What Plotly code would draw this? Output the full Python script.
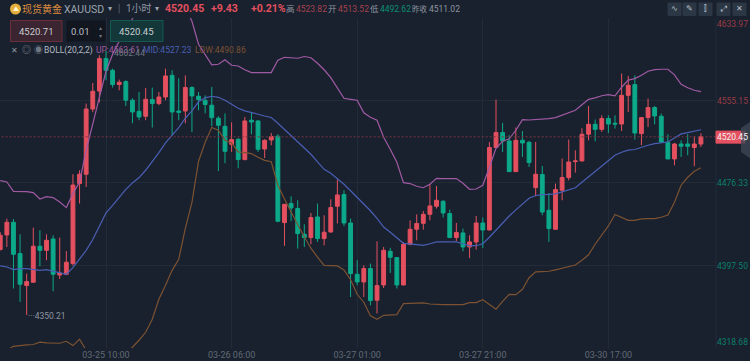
import plotly.graph_objects as go

W, H = 750, 361
L, R, T, B = 0, 716, 18, 347.7

open_ = [4412.7,4426.7,4438.8,4408.9,4378.3,4381.5,4415.9,4412.0,4422.9,4388.4,4389.1,4399.3,4475.8,4484.7,4547.0,4564.2,4595.2,4584.0,4570.4,4573.2,
4555.4,4544.8,4540.1,4556.0,4552.2,4558.5,4579.2,4545.1,4545.1,4567.5,4559.2,4555.4,4550.6,4538.2,4530.5,4513.3,4518.1,4498.7,4536.3,4535.6,
4508.8,4517.4,4521.0,4438.5,4456.7,4451.9,4427.3,4424.2,4443.9,4423.2,4429.5,4454.1,4465.3,4438.1,4389.1,4381.8,4394.6,4364.3,4378.9,4411.1,
4405.1,4378.9,4417.8,4432.1,4437.8,4446.4,4454.1,4458.9,4447.1,4424.2,4428.6,4415.2,4420.0,4438.1,4431.4,4510.2,4524.5,4516.5,4487.2,4517.1,
4515.2,4471.9,4484.4,4450.3,4432.1,4469.4,4481.5,4496.8,4497.4,4522.9,4532.4,4527.6,4537.9,4533.4,4532.7,4560.1,4570.4,4523.5,4538.8,4548.4,
4540.1,4515.2,4499.3,4513.6,4513.6,4510.2,4513.52]
high = [4429.3,4442.3,4441.9,4427.3,4389.8,4433.7,4431.2,4427.3,4426.4,4424.2,4411.4,4484.7,4488.5,4552.2,4571.9,4598.4,4602.44,4585.6,4575.1,4574.5,
4557.3,4563.3,4567.1,4567.5,4563.3,4585.6,4584.0,4576.4,4579.2,4568.7,4563.3,4560.1,4568.1,4540.1,4542.9,4534.3,4519.1,4539.4,4543.2,4536.3,
4518.1,4524.1,4522.9,4456.0,4463.6,4459.8,4436.9,4447.7,4456.7,4445.5,4460.8,4479.6,4469.4,4442.3,4402.5,4397.7,4399.3,4420.6,4415.2,4414.3,
4405.4,4420.0,4440.7,4446.4,4449.6,4475.1,4473.5,4459.8,4450.9,4438.1,4432.8,4426.4,4444.8,4443.3,4515.5,4556.0,4533.7,4521.9,4529.3,4526.0,
4516.5,4515.5,4492.6,4466.8,4475.8,4499.7,4517.8,4507.6,4528.6,4549.9,4536.9,4541.0,4541.0,4541.0,4580.9,4578.6,4579.2,4539.4,4557.0,4549.9,
4542.7,4522.9,4514.6,4517.1,4522.9,4521.0,4523.82]
low = [4412.0,4415.2,4375.5,4362.7,4350.21,4381.5,4396.8,4402.5,4372.9,4384.6,4388.2,4397.4,4456.7,4472.5,4543.9,4553.4,4574.5,4567.5,4564.9,4549.9,
4533.4,4536.3,4536.3,4529.3,4550.6,4555.4,4521.9,4536.3,4533.4,4525.1,4545.8,4542.9,4530.5,4487.8,4495.2,4506.0,4490.4,4498.0,4522.9,4506.0,
4500.2,4512.4,4438.8,4416.2,4439.8,4413.7,4415.2,4417.8,4420.0,4416.8,4428.9,4437.6,4435.0,4367.4,4378.6,4367.4,4359.5,4351.6,4376.0,4390.4,
4375.5,4378.6,4416.8,4421.6,4431.8,4440.7,4451.9,4443.3,4424.2,4420.9,4411.1,4404.7,4412.7,4414.2,4431.2,4510.0,4506.0,4487.2,4487.0,4501.2,
4491.6,4463.6,4445.5,4420.0,4431.8,4459.8,4478.9,4486.3,4497.0,4517.1,4516.2,4525.1,4524.1,4528.3,4526.0,4544.2,4517.8,4512.4,4529.9,4532.4,
4514.6,4499.0,4493.3,4501.2,4502.8,4492.3,4510.7]
close = [4426.4,4438.8,4408.2,4379.6,4382.1,4415.9,4412.0,4421.6,4389.1,4390.4,4400.6,4474.4,4484.7,4547.0,4564.0,4595.2,4584.0,4570.4,4572.6,4555.4,
4544.2,4539.4,4556.3,4552.2,4558.5,4578.6,4544.2,4543.9,4567.5,4559.5,4556.0,4551.3,4538.8,4531.5,4506.6,4517.8,4498.7,4535.6,4534.6,4508.5,
4517.1,4520.7,4439.8,4456.0,4452.5,4428.0,4424.2,4443.3,4423.2,4429.3,4452.8,4464.9,4438.1,4389.8,4381.8,4394.6,4364.0,4378.3,4412.0,4405.4,
4378.9,4417.8,4432.1,4437.6,4446.4,4454.4,4459.8,4447.7,4424.2,4429.0,4415.2,4420.0,4438.1,4431.4,4510.2,4524.5,4516.5,4487.2,4517.1,4514.6,
4495.8,4484.7,4448.6,4432.8,4470.0,4481.5,4496.4,4497.4,4522.9,4532.4,4527.6,4537.9,4532.7,4532.7,4560.1,4569.7,4524.1,4538.8,4548.4,4540.4,
4515.5,4499.3,4513.6,4511.4,4511.4,4513.6,4520.45]

band_up = [4478.6,4477.3,4468.4,4468.4,4468.1,4467.2,4461.0,4463.3,4462.4,4458.2,4452.8,4466.2,4477.3,4507.6,4531.5,4558.2,4583.1,4599.3,4611.7,4623.2,
4633.2,4643.3,4655.7,4665.2,4670.0,4671.9,4670.0,4662.4,4644.2,4630.8,4608.9,4599.3,4589.3,4589.8,4594.1,4588.8,4588.1,4584.5,4581.8,4581.8,
4581.8,4581.8,4593.6,4596.4,4596.0,4595.5,4597.2,4596.0,4590.7,4584.5,4576.9,4567.3,4557.3,4556.3,4555.4,4543.4,4539.1,4536.3,4520.0,4508.5,
4496.1,4476.7,4475.8,4473.2,4471.8,4475.1,4480.8,4480.5,4480.5,4480.5,4476.0,4470.3,4470.6,4474.2,4491.3,4509.5,4516.2,4518.6,4526.7,4536.9,
4536.5,4536.7,4537.2,4537.8,4538.8,4541.0,4543.4,4545.8,4551.1,4556.3,4557.7,4559.7,4560.8,4559.5,4567.8,4574.7,4576.1,4579.2,4583.1,4584.7,
4585.0,4585.0,4579.7,4570.6,4567.3,4564.9,4563.61]
band_mid = [4397.1,4396.1,4393.6,4394.6,4394.6,4393.9,4392.9,4393.6,4392.3,4390.4,4389.1,4395.5,4403.2,4412.0,4422.3,4434.3,4447.7,4455.0,4462.4,4470.3,
4476.4,4481.5,4488.5,4496.4,4505.4,4514.6,4521.9,4529.3,4538.2,4545.3,4553.9,4557.7,4559.2,4558.2,4555.4,4551.3,4547.7,4545.3,4543.9,4542.0,
4540.3,4538.9,4533.4,4527.6,4521.9,4516.2,4509.8,4503.8,4496.6,4489.4,4485.6,4480.5,4475.1,4468.9,4462.7,4456.5,4449.8,4442.6,4434.2,4429.3,
4424.0,4418.7,4418.1,4417.3,4416.8,4418.3,4420.0,4420.0,4420.0,4420.0,4418.3,4416.3,4416.4,4418.3,4424.5,4431.2,4438.8,4444.8,4450.6,4456.0,
4461.7,4464.4,4465.3,4465.4,4466.0,4467.9,4469.8,4471.8,4477.0,4482.3,4487.5,4492.8,4497.6,4502.8,4505.7,4507.8,4508.3,4510.6,4512.4,4513.9,
4514.8,4515.5,4519.3,4523.2,4524.5,4525.9,4527.23]
band_low = [4314.6,4316.5,4320.3,4321.3,4321.6,4322.0,4324.2,4323.5,4323.2,4323.2,4325.1,4321.0,4327.0,4316.5,4311.7,4306.9,4305.0,4305.0,4308.9,4314.6,
4319.4,4326.1,4333.7,4346.1,4365.2,4378.6,4392.9,4403.4,4433.0,4457.9,4497.1,4515.2,4529.3,4526.7,4517.1,4514.6,4506.0,4505.4,4504.4,4500.9,
4498.0,4496.6,4474.2,4461.0,4448.4,4436.4,4425.0,4414.0,4405.4,4397.7,4397.4,4397.1,4393.2,4383.9,4370.0,4362.4,4349.5,4346.1,4349.9,4350.3,
4350.6,4361.1,4361.4,4361.9,4361.7,4360.7,4360.2,4360.2,4360.2,4360.2,4360.2,4362.0,4362.1,4364.8,4360.0,4355.7,4363.3,4370.0,4369.7,4374.8,
4385.8,4391.4,4391.7,4392.0,4393.4,4394.9,4396.3,4398.0,4402.5,4407.7,4417.8,4426.4,4435.3,4446.2,4443.1,4440.7,4440.7,4442.1,4442.3,4442.3,
4443.6,4445.8,4457.9,4474.2,4481.8,4487.5,4490.86]

x_idx = list(range(len(close)))
date_pos = [16, 35, 54, 73, 92]
date_labels = ["03-25 10:00", "03-26 06:00", "03-27 01:00", "03-27 21:00", "03-30 17:00"]
price_ticks = [4633.97, 4555.15, 4476.33, 4397.50, 4318.68]
last_price = 4520.45
max_price, max_idx = 4602.44, 16
min_price, min_idx = 4350.21, 4

RED = "#E4505F"; GREEN = "#0CA98A"; BG = "#19212E"; GRID = "#212C38"

fig = go.Figure()
fig.add_trace(go.Candlestick(x=x_idx, open=open_, high=high, low=low, close=close,
    increasing=dict(line=dict(color=RED, width=1), fillcolor=RED),
    decreasing=dict(line=dict(color=GREEN, width=1), fillcolor=GREEN),
    whiskerwidth=0, hoverinfo="skip", showlegend=False))
for vals, col in [(band_up, "#A05AA4"), (band_mid, "#4A5FB4"), (band_low, "#7C5232")]:
    fig.add_trace(go.Scatter(x=x_idx, y=vals, mode="lines", line=dict(color=col, width=1.2),
                             hoverinfo="skip", showlegend=False))

def px(x): return (x - L) / (R - L)
def py(y): return (B - y) / (B - T)
shapes, ann = [], []
FONT = "Roboto, 'Noto Sans CJK SC', sans-serif"

def text(x, y, s, color, size=10, anchor="left", bold=False):
    ann.append(dict(xref="paper", yref="paper", x=px(x), y=py(y), text=f"<b>{s}</b>" if bold else s,
                    showarrow=False, xanchor=anchor, yanchor="middle", align=anchor,
                    font=dict(color=color, size=size, family=FONT), borderpad=0, borderwidth=0))

def rect(x0, y0, x1, y1, fill, line=None):
    shapes.append(dict(type="rect", xref="paper", yref="paper", x0=px(x0), x1=px(x1), y0=py(y0), y1=py(y1),
                       fillcolor=fill, line=dict(color=line or fill, width=1), layer="above"))

shapes.append(dict(type="line", xref="x", yref="y", x0=-1, x1=108.28, y0=last_price, y1=last_price,
                   line=dict(color="#7A3540", width=1, dash="2px,2px"), layer="above"))
shapes.append(dict(type="line", xref="paper", yref="paper", x0=1, x1=1, y0=0, y1=1,
                   line=dict(color=GRID, width=1), layer="below"))

shapes.append(dict(type="circle", xref="paper", yref="paper", x0=px(10), x1=px(21), y0=py(14.5), y1=py(3.5),
                   fillcolor="#E5AE3C", line=dict(color="#E5AE3C", width=0)))
text(15.5, 9, "▲", "#FFF4D0", 6, "center")
text(22, 9, "现货黄金", "#D98B3E", 10)
text(64, 9.5, "XAUUSD", "#9AA3AD", 10.5)
text(110, 9, "▾", "#9AA3AD", 8, "center")
rect(119, 4, 119.5, 13, "#3A4450")
text(125.5, 9, "1小时", "#8D96A1", 10)
text(157, 9, "▾", "#9AA3AD", 8, "center")
text(165, 9, "4520.45", RED, 10.5, bold=True)
text(211, 9, "+9.43", RED, 10.5, bold=True)
text(251, 9, "+0.21%", RED, 10.5, bold=True)
text(286, 9, "高", "#8D96A1", 8.5)
text(296, 9.5, "4523.82", "#A8414F", 8.5)
text(328, 9, "开", "#8D96A1", 8.5)
text(338, 9.5, "4513.52", "#A8414F", 8.5)
text(370, 9, "低", "#8D96A1", 8.5)
text(380, 9.5, "4492.62", "#0C8F76", 8.5)
text(412, 9, "昨收", "#8D96A1", 7.5)
text(429, 9.5, "4511.02", "#8D96A1", 8.5)
for x0, g in [(668, "∿"), (683, "✎"), (699, "⫿"), (717, "⤢"), (733, "✕")]:
    rect(x0, 3, x0 + 13, 15.5, "#2C3745")
    text(x0 + 6.5, 9, g, "#B8C0C8", 8, "center")

rect(10.5, 20.5, 62, 41.5, "#3A2530", "#6A2F3B")
text(36, 31.5, "4520.71", "#C9CDD2", 9.5, "center")
rect(67, 21, 105, 41, "#11161F")
text(71, 31.5, "0.01", "#B8BEC5", 9.5)
text(100, 27, "▴", "#778", 6, "center")
text(100, 35.5, "▾", "#778", 6, "center")
rect(110.5, 20.5, 163, 41.5, "#14373A", "#155A50")
text(136.5, 31.5, "4520.45", "#C9CDD2", 9.5, "center")

text(14, 50, "✕", "#8D96A1", 8, "center")
text(26, 50, "◎", "#8D96A1", 9, "center")
text(38, 50, "◉", "#6E7782", 9, "center")
text(44, 50, "BOLL(20,2,2)", "#B4BBC3", 8.5)
text(96, 50, "UP:4563.61", "#9C5AA0", 8.5)
text(143, 50, "MID:4527.23", "#4A5FB4", 8.5)
text(195, 50, "LOW:4490.86", "#7C5232", 8.5)

ann.append(dict(xref="x", yref="y", x=max_idx, y=max_price, text="4602.44", showarrow=False, xanchor="left",
                yanchor="middle", xshift=6, yshift=-2, font=dict(color="#6E7680", size=8.5, family=FONT)))
ann.append(dict(xref="x", yref="y", x=min_idx, y=min_price, text="···4350.21", showarrow=False, xanchor="left",
                yanchor="middle", xshift=-1, yshift=-1, font=dict(color="#8D96A1", size=8.5, family=FONT)))

for v, col, ys in zip(price_ticks, ["#9A3B46", "#9A3B46", "#0C7F6A", "#0C7F6A", "#0C7F6A"], [-6, 0, 0, 0, 6]):
    ann.append(dict(xref="paper", yref="y", x=px(714.5), y=v, text=f"{v:.2f}", showarrow=False, xanchor="left",
                    yanchor="middle", yshift=ys, font=dict(color=col, size=8.5, family=FONT)))

rect(716, 131, 745, 143, "#E4505F")
shapes.append(dict(type="path", xref="paper", yref="paper",
                   path=f"M {px(750)} {py(122)} L {px(741)} {py(128)} L {px(741)} {py(152)} L {px(750)} {py(158)} Z",
                   fillcolor="rgba(60,70,84,0.8)", line=dict(width=0), layer="above"))
ann.append(dict(xref="paper", yref="y", x=px(714.5), y=last_price, text=f"{last_price:.2f}", showarrow=False,
                xanchor="left", yanchor="middle", font=dict(color="#F2F2F2", size=8.5, family=FONT)))
text(745, 139, "›", "#C8CDD3", 9, "center")

fig.update_layout(
    width=W, height=H, paper_bgcolor=BG, plot_bgcolor=BG, showlegend=False,
    margin=dict(l=L, r=W - R, t=T, b=H - B, pad=0),
    boxgap=0.42, boxgroupgap=0,
    shapes=shapes, annotations=ann,
    xaxis=dict(range=[-0.036, 108.28], rangeslider=dict(visible=False), tickmode="array",
               tickvals=date_pos, ticktext=date_labels, showgrid=True, gridcolor=GRID, gridwidth=1,
               zeroline=False, showline=False, ticks="", tickfont=dict(color="#616A75", size=9, family=FONT)),
    yaxis=dict(range=[price_ticks[-1], price_ticks[0]], tickmode="array", tickvals=price_ticks,
               showticklabels=False, showgrid=True, gridcolor=GRID, gridwidth=1, zeroline=False,
               showline=False, ticks=""),
)
fig.write_html("out.html", post_script="document.body.style.margin='0';document.body.style.overflow='hidden';document.body.style.background='#19212E';",
               config={"displayModeBar": False})
